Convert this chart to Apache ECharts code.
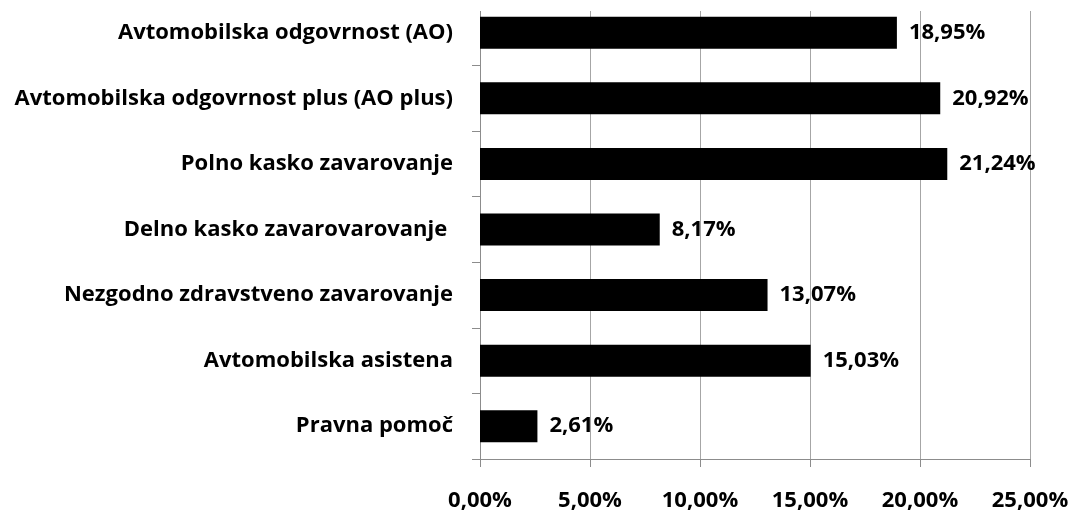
<!DOCTYPE html>
<html>
<head>
<meta charset="utf-8">
<script src="https://cdn.jsdelivr.net/npm/echarts@6/dist/echarts.min.js"></script>
<style>
html,body{margin:0;padding:0;background:#fff;}
#chart{width:1075px;height:514px;}
</style>
</head>
<body>
<div id="chart"></div>
<script>
const categories = [
  "Avtomobilska odgovrnost (AO)",
  "Avtomobilska odgovrnost plus (AO plus)",
  "Polno kasko zavarovanje",
  "Delno kasko zavarovarovanje ",
  "Nezgodno zdravstveno zavarovanje",
  "Avtomobilska asistena",
  "Pravna pomoč"
];
const shares = [18.95, 20.92, 21.24, 8.17, 13.07, 15.03, 2.61];
const xTicks = [0, 5, 10, 15, 20, 25];

const fmt = v => v.toFixed(2).replace('.', ',') + '%';
const font = '"Open Sans", "Noto Sans", sans-serif';

const chart = echarts.init(document.getElementById('chart'), null, {renderer: 'canvas'});
chart.setOption({
  animation: false,
  backgroundColor: '#ffffff',
  grid: {left: 480, right: 45, top: 0, bottom: 55, containLabel: false},
  graphic: [{
    type: 'rect', left: 470, top: 0, z: 100,
    shape: {width: 605, height: 11},
    style: {fill: '#ffffff'}
  }],
  xAxis: {
    type: 'value',
    min: xTicks[0],
    max: xTicks[xTicks.length - 1],
    interval: xTicks[1] - xTicks[0],
    axisLine: {show: true, lineStyle: {color: '#8c8c8c', width: 1}},
    axisTick: {show: true, length: 8, lineStyle: {color: '#8c8c8c'}},
    splitLine: {show: true, lineStyle: {color: '#a6a6a6', width: 1}},
    axisLabel: {
      formatter: v => fmt(v),
      color: '#000', fontFamily: font, fontWeight: 'bold', fontSize: 22, margin: 31
    }
  },
  yAxis: {
    type: 'category',
    data: categories,
    inverse: true,
    axisLine: {show: true, lineStyle: {color: '#8c8c8c', width: 1}},
    axisTick: {show: true, length: 8, lineStyle: {color: '#8c8c8c'}},
    axisLabel: {color: '#000', fontFamily: font, fontWeight: 'bold', fontSize: 22, margin: 27}
  },
  series: [{
    type: 'bar',
    data: shares,
    barWidth: 32,
    itemStyle: {color: '#000000'},
    label: {
      show: true, position: 'right', distance: 12,
      formatter: p => fmt(p.value),
      color: '#000', fontFamily: font, fontWeight: 'bold', fontSize: 22
    }
  }]
});
</script>
</body>
</html>
